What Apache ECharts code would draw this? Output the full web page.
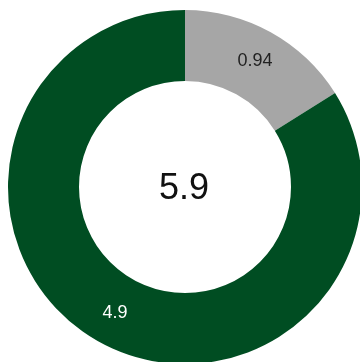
<!DOCTYPE html>
<html>
<head>
<meta charset="utf-8">
<script src="https://cdn.jsdelivr.net/npm/echarts@6/dist/echarts.min.js"></script>
<style>
  html, body { margin: 0; padding: 0; background: #ffffff; }
  #chart { width: 360px; height: 362px; }
</style>
</head>
<body>
<div id="chart"></div>
<script>
// Slice values, in drawing order (clockwise from 12 o'clock)
const sliceNames = ['A', 'B'];
const sliceValues = [0.94, 4.9];
const sliceColors = ['#a6a6a6', '#004d22'];
const sliceLabelColors = ['#222222', '#ffffff'];
const totalLabel = '5.9';

const labelFont = 'Liberation Sans, Arial, sans-serif';

const chart = echarts.init(document.getElementById('chart'), null, { renderer: 'canvas' });

chart.setOption({
  animation: false,
  backgroundColor: '#ffffff',
  graphic: [{
    type: 'text',
    x: 184,
    y: 189,
    style: {
      text: totalLabel,
      font: '36px "Liberation Sans", Arial, sans-serif',
      fill: '#111111',
      align: 'center',
      verticalAlign: 'middle'
    }
  }],
  series: [{
    type: 'pie',
    center: [185, 187],
    radius: [106, 177],
    startAngle: 90,
    clockwise: true,
    avoidLabelOverlap: false,
    label: {
      show: true,
      position: 'inside',
      fontFamily: labelFont,
      fontSize: 18
    },
    labelLine: { show: false },
    itemStyle: { borderWidth: 0 },
    emphasis: { disabled: true },
    data: sliceValues.map((v, i) => ({
      name: sliceNames[i],
      value: v,
      itemStyle: { color: sliceColors[i] },
      label: {
        formatter: String(v),
        color: sliceLabelColors[i],
        fontFamily: labelFont,
        fontSize: 18
      }
    }))
  }]
});
</script>
</body>
</html>
